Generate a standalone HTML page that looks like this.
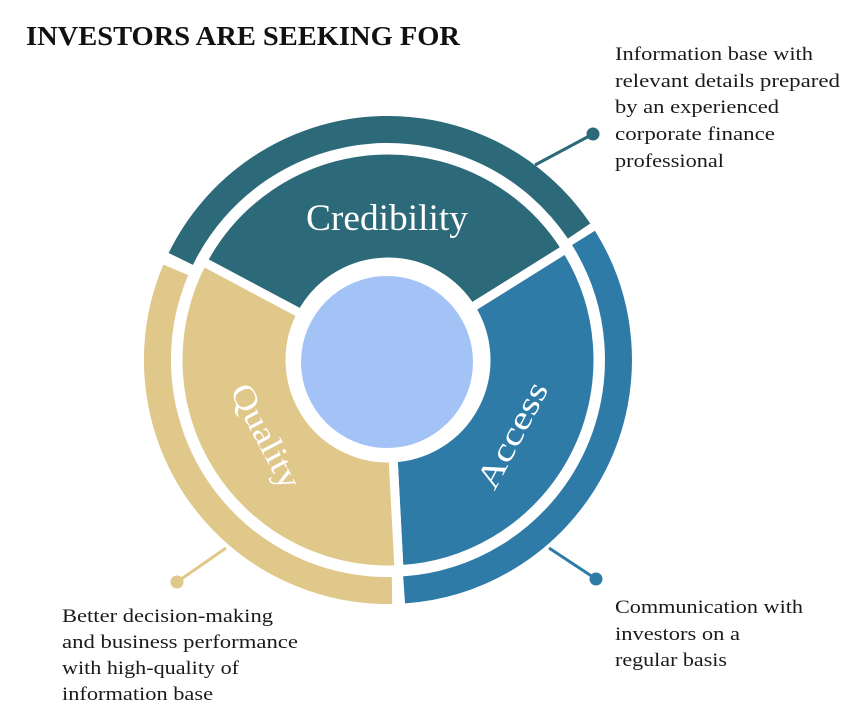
<!DOCTYPE html>
<html><head><meta charset="utf-8"><style>
html,body{margin:0;padding:0;background:#fff;}
svg{display:block;}
text{font-family:"Liberation Serif",serif;}
</style></head><body>
<svg width="851" height="712" viewBox="0 0 851 712" xmlns="http://www.w3.org/2000/svg">
<rect width="851" height="712" fill="#fff"/>
<text x="26" y="45" font-size="27" font-weight="bold" fill="#111" textLength="434" lengthAdjust="spacingAndGlyphs">INVESTORS ARE SEEKING FOR</text>

<!-- outer ring -->
<path d="M180.8 258.9 A230.5 230.5 0 0 1 579.1 231.1" fill="none" stroke="#2c6979" stroke-width="27"/>
<path d="M583.5 237.9 A230.5 230.5 0 0 1 404.1 589.9" fill="none" stroke="#2e7ba8" stroke-width="27"/>
<path d="M392.0 590.5 A230.5 230.5 0 0 1 175.8 269.9" fill="none" stroke="#e0c78a" stroke-width="27"/>

<!-- inner segments -->
<path d="M202.6 261.4 A210 210 0 0 1 566.1 248.7 L471.1 308.1 A98 98 0 0 0 301.5 314.0 Z" fill="#2c6979" stroke="#fff" stroke-width="9" stroke-linejoin="round"/>
<path d="M566.1 248.7 A210 210 0 0 1 399.0 569.7 L393.1 457.9 A98 98 0 0 0 471.1 308.1 Z" fill="#2e7ba8" stroke="#fff" stroke-width="9" stroke-linejoin="round"/>
<path d="M399.0 569.7 A210 210 0 0 1 202.6 261.4 L301.5 314.0 A98 98 0 0 0 393.1 457.9 Z" fill="#e0c78a" stroke="#fff" stroke-width="9" stroke-linejoin="round"/>

<circle cx="387" cy="362" r="98" fill="#fff"/>
<circle cx="387" cy="362" r="86" fill="#a3c3f7"/>

<text x="306" y="230" font-size="37" fill="#fff" textLength="162" lengthAdjust="spacingAndGlyphs">Credibility</text>
<text transform="translate(512,435) rotate(-62)" font-size="33" fill="#fff" x="-58" dy="11" textLength="116" lengthAdjust="spacingAndGlyphs">Access</text>
<text transform="translate(266,436) rotate(62)" font-size="33" fill="#fff" x="-57" dy="11" textLength="114" lengthAdjust="spacingAndGlyphs">Quality</text>

<!-- connectors -->
<line x1="535" y1="165" x2="593" y2="134" stroke="#2c6979" stroke-width="3"/>
<circle cx="593" cy="134" r="6.5" fill="#2c6979"/>
<line x1="549" y1="548" x2="596" y2="579" stroke="#2e7ba8" stroke-width="3"/>
<circle cx="596" cy="579" r="6.5" fill="#2e7ba8"/>
<line x1="226" y1="548" x2="177" y2="582" stroke="#e0c78a" stroke-width="3"/>
<circle cx="177" cy="582" r="6.5" fill="#e0c78a"/>

<g font-size="18.5" fill="#1a1a1a" lengthAdjust="spacingAndGlyphs">
<text x="615" y="60" textLength="198" lengthAdjust="spacingAndGlyphs">Information base with</text>
<text x="615" y="87" textLength="225" lengthAdjust="spacingAndGlyphs">relevant details prepared</text>
<text x="615" y="113" textLength="164" lengthAdjust="spacingAndGlyphs">by an experienced</text>
<text x="615" y="140" textLength="160" lengthAdjust="spacingAndGlyphs">corporate finance</text>
<text x="615" y="167" textLength="109" lengthAdjust="spacingAndGlyphs">professional</text>
<text x="615" y="613" textLength="188" lengthAdjust="spacingAndGlyphs">Communication with</text>
<text x="615" y="640" textLength="125" lengthAdjust="spacingAndGlyphs">investors on a</text>
<text x="615" y="666" textLength="112" lengthAdjust="spacingAndGlyphs">regular basis</text>
<text x="62" y="622" textLength="211" lengthAdjust="spacingAndGlyphs">Better decision-making</text>
<text x="62" y="648" textLength="236" lengthAdjust="spacingAndGlyphs">and business performance</text>
<text x="62" y="674" textLength="177" lengthAdjust="spacingAndGlyphs">with high-quality of</text>
<text x="62" y="700" textLength="151" lengthAdjust="spacingAndGlyphs">information base</text>
</g>
</svg>
</body></html>
